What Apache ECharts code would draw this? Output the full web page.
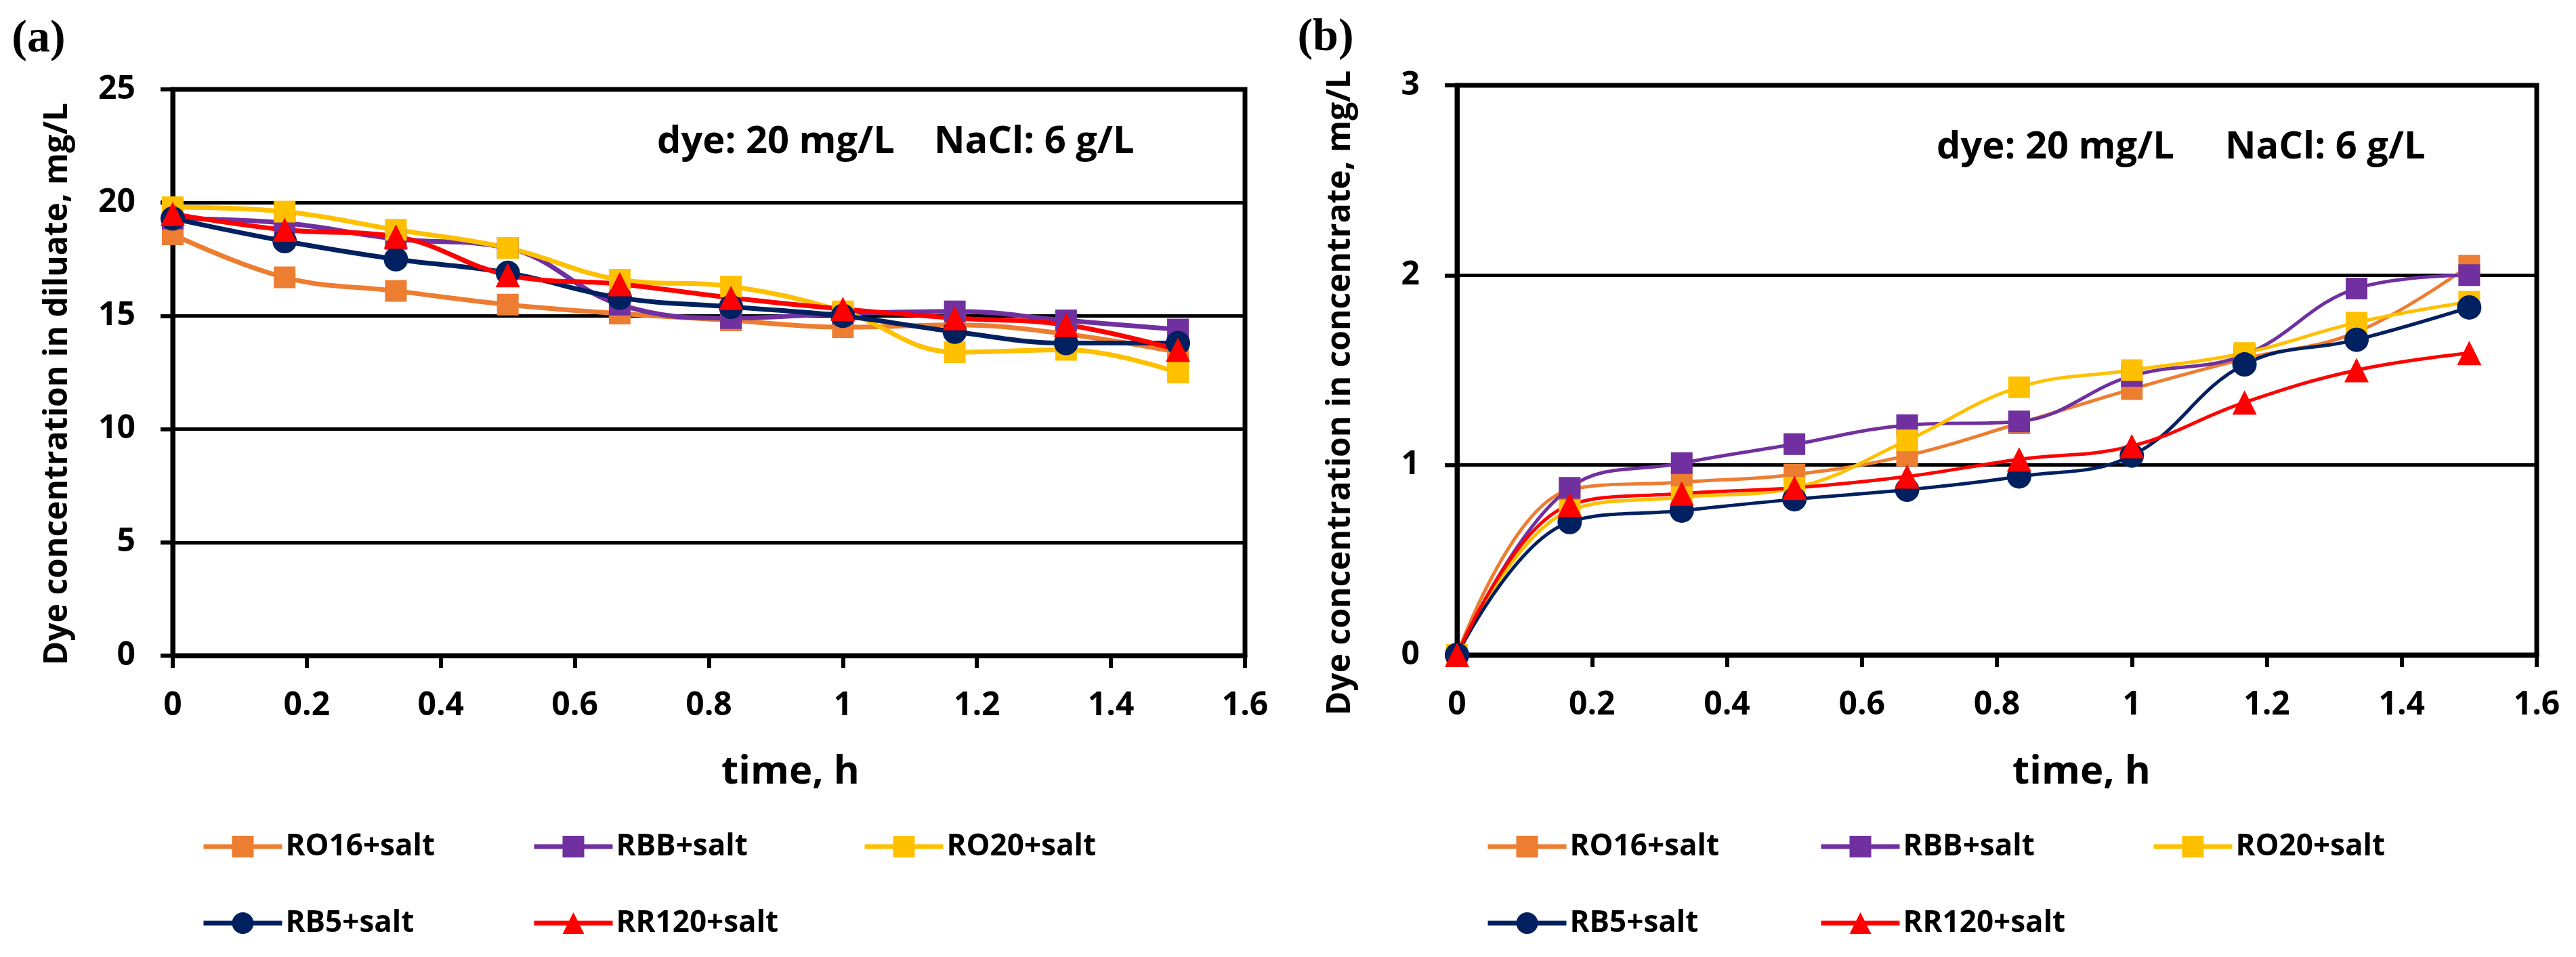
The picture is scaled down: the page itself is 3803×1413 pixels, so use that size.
<!DOCTYPE html>
<html>
<head>
<meta charset="utf-8">
<script src="https://cdn.jsdelivr.net/npm/echarts@6/dist/echarts.min.js"></script>
<style>
html, body { margin: 0; background: #fff; }
#chart { width: 3803px; height: 1413px; }
</style>
</head>
<body>
<div id="chart"></div>
<script>
// time axis (h) and series names
var times = [0, 0.167, 0.333, 0.5, 0.667, 0.833, 1, 1.167, 1.333, 1.5];
var names = ['RO16+salt', 'RBB+salt', 'RO20+salt', 'RB5+salt', 'RR120+salt'];
var xTicks = [0, 0.2, 0.4, 0.6, 0.8, 1, 1.2, 1.4, 1.6];
var yTicksA = [0, 5, 10, 15, 20, 25];
var yTicksB = [0, 1, 2, 3];

// (a) dye concentration in diluate, mg/L
var ro16A  = [18.6, 16.7, 16.1, 15.5, 15.1, 14.8, 14.5, 14.6, 14.2, 13.4];
var rbbA   = [19.3, 19.1, 18.4, 18.0, 15.5, 14.9, 15.1, 15.2, 14.8, 14.4];
var ro20A  = [19.8, 19.6, 18.8, 18.0, 16.6, 16.3, 15.2, 13.4, 13.5, 12.5];
var rb5A   = [19.3, 18.3, 17.5, 16.9, 15.8, 15.4, 15.0, 14.3, 13.8, 13.8];
var rr120A = [19.5, 18.8, 18.5, 16.8, 16.4, 15.8, 15.3, 14.9, 14.6, 13.5];

// (b) dye concentration in concentrate, mg/L
var ro16B  = [0, 0.87, 0.91, 0.95, 1.05, 1.22, 1.40, 1.56, 1.70, 2.05];
var rbbB   = [0, 0.88, 1.01, 1.11, 1.21, 1.23, 1.47, 1.58, 1.93, 2.00];
var ro20B  = [0, 0.76, 0.83, 0.88, 1.13, 1.41, 1.50, 1.59, 1.75, 1.86];
var rb5B   = [0, 0.70, 0.76, 0.82, 0.87, 0.94, 1.05, 1.53, 1.66, 1.83];
var rr120B = [0, 0.79, 0.85, 0.88, 0.94, 1.03, 1.10, 1.33, 1.50, 1.59];

var colors  = ['#ED7D31', '#7030A0', '#FFC000', '#002060', '#FF0000'];
var symbols = ['rect', 'rect', 'rect', 'circle', 'triangle'];
var sizes   = [32, 32, 32, 36, 36];

var FONT = '"Open Sans", "DejaVu Sans", sans-serif';

var myChart = echarts.init(document.getElementById('chart'));

function lineSeries(i, vals, idx, lw) {
    return {
        name: names[i],
        type: 'line',
        xAxisIndex: idx,
        yAxisIndex: idx,
        smooth: 0.4,
        symbol: symbols[i],
        symbolSize: sizes[i],
        data: times.map(function (t, k) { return [t, vals[k]]; }),
        itemStyle: { color: colors[i] },
        lineStyle: { color: colors[i], width: lw },
        emphasis: { disabled: true },
        animation: false
    };
}

function xAxis(idx) {
    return {
        type: 'value', gridIndex: idx,
        min: xTicks[0], max: xTicks[xTicks.length - 1], interval: xTicks[1] - xTicks[0],
        axisLine: { show: true, lineStyle: { color: '#000', width: 7 } },
        axisTick: { show: true, inside: false, length: 18, lineStyle: { color: '#000', width: 6 } },
        axisLabel: { margin: 50, color: '#000', fontFamily: FONT, fontWeight: 'bold', fontSize: 48 },
        splitLine: { show: false }
    };
}

function yAxis(idx, ticks) {
    return {
        type: 'value', gridIndex: idx,
        min: ticks[0], max: ticks[ticks.length - 1], interval: ticks[1] - ticks[0],
        axisLine: { show: true, lineStyle: { color: '#000', width: 7 } },
        axisTick: { show: true, inside: false, length: 18, lineStyle: { color: '#000', width: 6 } },
        axisLabel: { margin: 55, color: '#000', fontFamily: FONT, fontWeight: 'bold', fontSize: 48 },
        splitLine: { show: true, lineStyle: { color: '#000', width: 5 } }
    };
}

function legendCol(items, left) {
    return {
        data: items,
        orient: 'vertical',
        left: left, top: 1225,
        padding: 0,
        itemWidth: 116, itemHeight: 40, itemGap: 63,
        selectedMode: false,
        lineStyle: { width: 7 },
        textStyle: { color: '#000', fontFamily: FONT, fontWeight: 'bold', fontSize: 44, lineHeight: 50 }
    };
}

function txt(text, x, y, size, opts) {
    opts = opts || {};
    return {
        type: 'text', x: x, y: y, rotation: opts.rot || 0, z: 10,
        style: {
            text: text, fill: '#000',
            fontFamily: opts.family || FONT, fontWeight: 'bold', fontSize: size,
            align: opts.align || 'center', verticalAlign: 'middle'
        }
    };
}

var option = {
    backgroundColor: '#fff',
    animation: false,
    grid: [
        { left: 255, top: 132, width: 1583, height: 836, show: true, borderWidth: 7, borderColor: '#000' },
        { left: 2151, top: 126, width: 1594, height: 841, show: true, borderWidth: 7, borderColor: '#000' }
    ],
    xAxis: [xAxis(0), xAxis(1)],
    yAxis: [yAxis(0, yTicksA), yAxis(1, yTicksB)],
    legend: [
        legendCol([names[0], names[3]], 297),
        legendCol([names[1], names[4]], 785),
        legendCol([names[2]], 1273),
        legendCol([names[0], names[3]], 2193),
        legendCol([names[1], names[4]], 2685),
        legendCol([names[2]], 3176)
    ],
    graphic: [
        txt('(a)', 57, 58, 68, { family: '"Liberation Serif", serif' }),
        txt('(b)', 1957, 56, 68, { family: '"Liberation Serif", serif' }),
        txt('Dye concentration in diluate, mg/L', 85, 567, 48, { rot: Math.PI / 2 }),
        txt('Dye concentration in concentrate, mg/L', 1979, 580, 48, { rot: Math.PI / 2 }),
        txt('time, h', 1167, 1140, 58),
        txt('time, h', 3073, 1140, 58),
        txt('dye: 20 mg/L', 970, 210, 56, { align: 'left' }),
        txt('NaCl: 6 g/L', 1379, 210, 56, { align: 'left' }),
        txt('dye: 20 mg/L', 2859, 218, 56, { align: 'left' }),
        txt('NaCl: 6 g/L', 3285, 218, 56, { align: 'left' })
    ],
    series: [
        lineSeries(0, ro16A, 0, 7),
        lineSeries(1, rbbA, 0, 7),
        lineSeries(2, ro20A, 0, 7),
        lineSeries(3, rb5A, 0, 7),
        lineSeries(4, rr120A, 0, 7),
        lineSeries(0, ro16B, 1, 5),
        lineSeries(1, rbbB, 1, 5),
        lineSeries(2, ro20B, 1, 5),
        lineSeries(3, rb5B, 1, 5),
        lineSeries(4, rr120B, 1, 5)
    ]
};
myChart.setOption(option);
</script>
</body>
</html>
